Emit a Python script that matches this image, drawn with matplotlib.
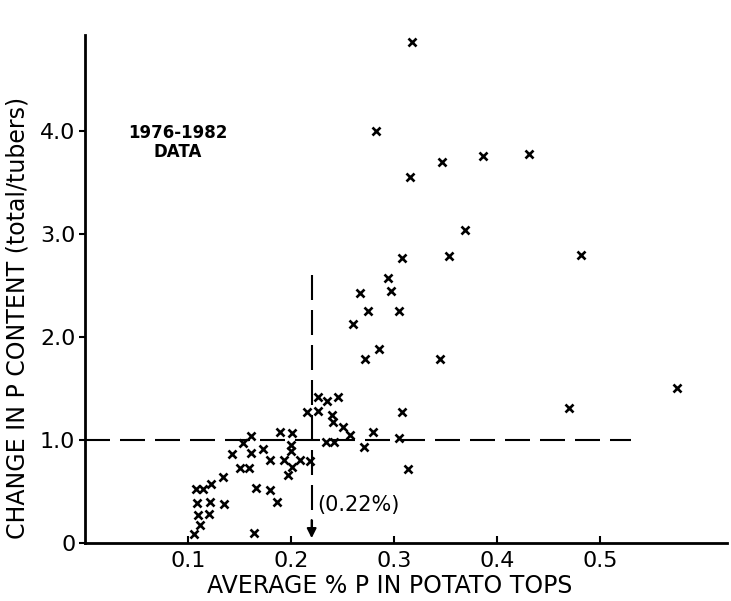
import matplotlib
matplotlib.use("Agg")
import matplotlib.pyplot as plt

plt.rcParams["font.family"] = "DejaVu Sans"

# data
p_tops = [0.161, 0.153, 0.143, 0.161, 0.173, 0.150, 0.159, 0.134, 0.122, 0.108,
          0.115, 0.166, 0.109, 0.121, 0.135, 0.110, 0.120, 0.112, 0.106, 0.164,
          0.180, 0.186, 0.180, 0.189, 0.201, 0.200, 0.200, 0.193, 0.209, 0.218,
          0.201, 0.197, 0.226, 0.235, 0.246, 0.215, 0.226, 0.240, 0.241, 0.308,
          0.250, 0.257, 0.280, 0.305, 0.271, 0.234, 0.242, 0.314,
          0.317, 0.282, 0.347, 0.386, 0.431, 0.315, 0.369, 0.308, 0.353, 0.481,
          0.294, 0.297, 0.267, 0.275, 0.305, 0.260, 0.285, 0.272, 0.345,
          0.470, 0.575]
p_change = [1.04, 0.97, 0.86, 0.87, 0.91, 0.73, 0.73, 0.64, 0.57, 0.52,
            0.52, 0.53, 0.39, 0.40, 0.38, 0.27, 0.28, 0.17, 0.09, 0.10,
            0.51, 0.40, 0.81, 1.08, 1.07, 0.95, 0.89, 0.81, 0.81, 0.80,
            0.74, 0.66, 1.42, 1.38, 1.42, 1.27, 1.28, 1.24, 1.17, 1.27,
            1.13, 1.05, 1.08, 1.02, 0.93, 0.98, 0.98, 0.72,
            4.86, 4.00, 3.70, 3.76, 3.78, 3.55, 3.04, 2.77, 2.79, 2.80,
            2.57, 2.45, 2.43, 2.25, 2.25, 2.13, 1.88, 1.79, 1.79,
            1.31, 1.50]

x_ticks = [0.1, 0.2, 0.3, 0.4, 0.5]
x_ticklabels = ["0.1", "0.2", "0.3", "0.4", "0.5"]
y_ticks = [0, 1, 2, 3, 4]
y_ticklabels = ["0", "1.0", "2.0", "3.0", "4.0"]

critical_p = 0.22
ratio_line = 1.0

fig = plt.figure(figsize=(7.31, 6.01), dpi=100)
ax = fig.add_axes([0.1163, 0.0965, 0.878, 0.857])

ax.plot(p_tops, p_change, "x", color="black", ms=6, mew=1.9)

# dashed guide lines
ax.plot([0, 0.53], [ratio_line, ratio_line], color="black", lw=1.5, dashes=(12, 4.8))
ax.plot([critical_p, critical_p], [2.6, 0.12], color="black", lw=1.5, dashes=(12, 4.8))
ax.annotate("", xy=(critical_p, 0.02), xytext=(critical_p, 0.25),
            arrowprops=dict(arrowstyle="-|>", color="black", lw=1.5, mutation_scale=14))

ax.text(0.225, 0.37, "(0.22%)", fontsize=15, ha="left", va="center")
ax.text(0.09, 3.89, "1976-1982\nDATA", fontsize=12, fontweight="bold",
        ha="center", va="center", linespacing=1.1)

ax.set_xlim(0, 0.623)
ax.set_ylim(0, 5.0)
ax.spines["top"].set_visible(False)
ax.spines["right"].set_visible(False)
ax.spines["left"].set_linewidth(2)
ax.spines["bottom"].set_linewidth(2)
ax.spines["left"].set_bounds(0, 4.93)

ax.set_xticks(x_ticks)
ax.set_xticklabels(x_ticklabels)
ax.set_yticks(y_ticks)
ax.set_yticklabels(y_ticklabels)
ax.tick_params(axis="x", direction="in", length=5, width=1.5, labelsize=16, pad=6)
ax.tick_params(axis="y", direction="out", length=4, width=1.5, labelsize=16, pad=3)

ax.set_xlabel("AVERAGE % P IN POTATO TOPS", fontsize=17)
ax.xaxis.set_label_coords(0.475, -0.06)
ax.set_ylabel("CHANGE IN P CONTENT (total/tubers)", fontsize=17)
ax.yaxis.set_label_coords(-0.087, 0.437)

plt.savefig("out.png", dpi=100)
